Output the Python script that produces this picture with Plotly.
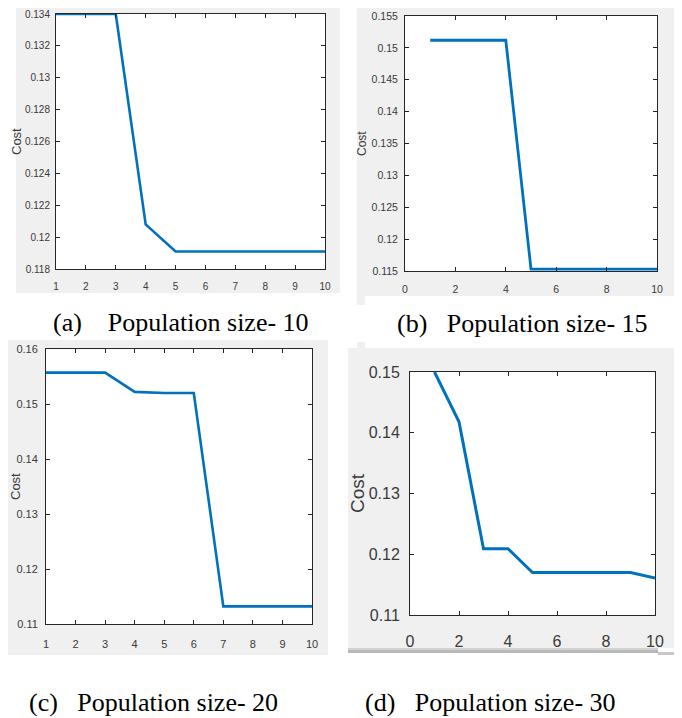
import plotly.graph_objects as go

# The page body keeps its default 8px margin, so the figure is made 8px smaller
# and every reference pixel position is shifted by that offset.
OFF = 8
W, H = 682 - OFF, 718 - OFF

# ---- data ----
iters = [1, 2, 3, 4, 5, 6, 7, 8, 9, 10]
cost_pop10 = [0.134, 0.134, 0.134, 0.1208, 0.1191, 0.1191, 0.1191, 0.1191, 0.1191, 0.1191]
cost_pop15 = [0.1512, 0.1512, 0.1512, 0.1512, 0.1153, 0.1153, 0.1153, 0.1153, 0.1153, 0.1153]
cost_pop20 = [0.1557, 0.1557, 0.1557, 0.1522, 0.1520, 0.1520, 0.1132, 0.1132, 0.1132, 0.1132]
cost_pop30 = [0.1500, 0.1418, 0.1209, 0.1209, 0.1170, 0.1170, 0.1170, 0.1170, 0.1170, 0.1161]
captions = ["(a)\u00a0\u00a0\u00a0\u00a0Population size- 10",
            "(b)\u00a0\u00a0\u00a0Population size- 15",
            "(c)\u00a0\u00a0\u00a0Population size- 20",
            "(d)\u00a0\u00a0\u00a0Population size- 30"]
ylabel = "Cost"


def px(x):
    return (x - OFF) / W


def py(y):
    return 1 - (y - OFF) / H


LINE = "#0072BD"
AX = "#262626"
BG = "#F0F0F0"
TICKC = "#3a3a3a"
SANS = "Liberation Sans Narrow, Arial Narrow, Liberation Sans, Arial, sans-serif"

panels = [
    dict(data=cost_pop10, box=(56, 14, 325, 269), xr=[1, 10], xd=1, yr=[0.118, 0.134], yd=0.002,
         tf=10, lw=2.6, xstand=8, ystand=3, cost=(17, 142, 13)),
    dict(data=cost_pop15, box=(405, 16, 657, 271), xr=[0, 10], xd=2, yr=[0.115, 0.155], yd=0.005,
         tf=10.5, lw=2.8, xstand=8, ystand=4, cost=(362, 144, 12)),
    dict(data=cost_pop20, box=(46, 349, 312, 624), xr=[1, 10], xd=1, yr=[0.11, 0.16], yd=0.01,
         tf=11, lw=2.6, xstand=10, ystand=5, cost=(15, 487, 13)),
    dict(data=cost_pop30, box=(410, 372, 655, 615), xr=[0, 10], xd=2, yr=[0.11, 0.15], yd=0.01,
         tf=16, lw=3.0, xstand=12, ystand=6, cost=(357, 493, 19)),
]

fig = go.Figure()
layout = dict(width=W, height=H, margin=dict(l=0, r=0, t=0, b=0),
              paper_bgcolor="white", plot_bgcolor="white", showlegend=False,
              font=dict(family=SANS, color=TICKC))

annotations = []
plot_boxes = []
for i, p in enumerate(panels):
    n = "" if i == 0 else str(i + 1)
    x0, y0, x1, y1 = p["box"]
    plot_boxes.append(p["box"])
    fig.add_trace(go.Scatter(x=iters, y=p["data"], mode="lines",
                             line=dict(color=LINE, width=p["lw"]),
                             xaxis="x" + n, yaxis="y" + n, hoverinfo="skip"))
    common = dict(showline=True, linecolor=AX, linewidth=1, mirror="ticks", ticks="inside",
                  ticklen=4, tickcolor=AX, showgrid=False, zeroline=False, automargin=False,
                  ticklabeloverflow="allow",
                  tickfont=dict(size=p["tf"], color=TICKC, family=SANS))
    layout["xaxis" + n] = dict(common, domain=[px(x0), px(x1)], range=p["xr"], dtick=p["xd"],
                               tick0=0, anchor="y" + n, ticklabelstandoff=p["xstand"])
    layout["yaxis" + n] = dict(common, domain=[py(y1), py(y0)], range=p["yr"], dtick=p["yd"],
                               tick0=0, anchor="x" + n, ticklabelstandoff=p["ystand"])
    cx, cy, cs = p["cost"]
    annotations.append(dict(text=ylabel, x=px(cx), y=py(cy), xref="paper", yref="paper",
                            showarrow=False, textangle=-90, xanchor="center", yanchor="middle",
                            font=dict(size=cs, color=TICKC, family=SANS)))

cap_pos = [(181, 322), (522, 323), (153, 702), (490, 702)]
for (cx, cy), t in zip(cap_pos, captions):
    annotations.append(dict(text=t, x=px(cx), y=py(cy), xref="paper", yref="paper",
                            showarrow=False, xanchor="center", yanchor="middle",
                            font=dict(size=26, color="black",
                                      family="Liberation Serif, Times New Roman, serif")))

gray_boxes = [(16, 0, 340, 293), (357, 5, 677, 296), (357, 296, 365, 305),
              (5, 340, 328, 655), (348, 348, 690, 648), (357, 342, 365, 348)]
shapes = []
for (a, b, c, d) in gray_boxes:
    shapes.append(dict(type="rect", xref="paper", yref="paper", x0=px(a), x1=px(c),
                       y0=py(d), y1=py(b), fillcolor=BG, line=dict(width=0), layer="below"))
shade = [(348, 648, 658, 650, "#D2D2D2"), (348, 650, 658, 653, "#B9B9B9"),
         (658, 652, 690, 655, "#C8C8C8")]
for (a, b, c, d, col) in shade:
    shapes.append(dict(type="rect", xref="paper", yref="paper", x0=px(a), x1=px(c),
                       y0=py(d), y1=py(b), fillcolor=col, line=dict(width=0), layer="below"))
# white plotting areas on top of the gray figure backgrounds
for (a, b, c, d) in plot_boxes:
    shapes.append(dict(type="rect", xref="paper", yref="paper", x0=px(a), x1=px(c),
                       y0=py(d), y1=py(b), fillcolor="white", line=dict(width=0), layer="below"))

layout["annotations"] = annotations
layout["shapes"] = shapes
fig.update_layout(**layout)
fig.write_html("out.html")
